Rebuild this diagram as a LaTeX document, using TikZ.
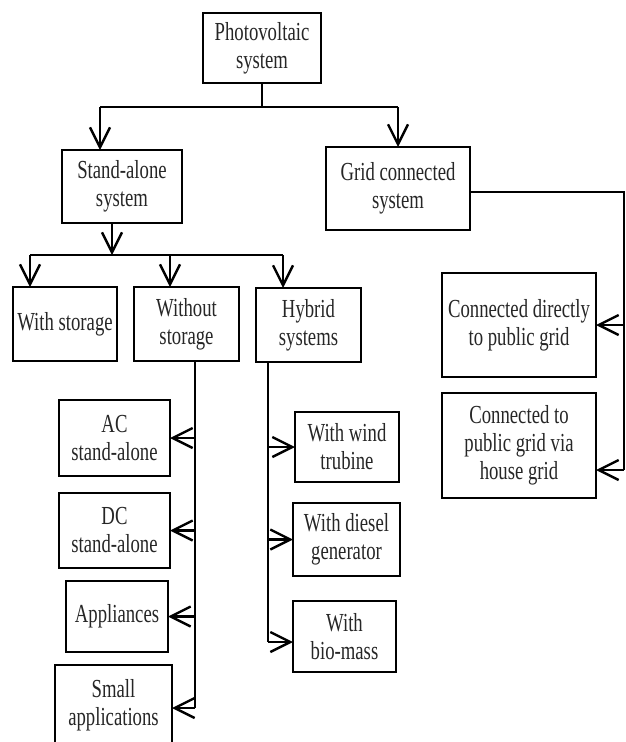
\documentclass[tikz,border=0pt]{standalone}
\usepackage{fontspec}
\setmainfont{Liberation Serif}[FakeStretch=0.72]
\usetikzlibrary{arrows.meta}
\begin{document}
\begin{tikzpicture}[x=1pt, y=-1pt, line join=miter,
        every node/.style={outer sep=0pt},
        box/.style={draw, line width=2.6pt, inner sep=0pt, align=center, text=black!85, font=\fontsize{26}{28}\selectfont},
        link/.style={line width=2.4pt},
        arr/.style={link, -{Straight Barb[length=20pt, width=20pt]}}]
        \useasboundingbox (0,0) rectangle (626,742);
        \node[box, minimum width=118pt, minimum height=70pt] (pv) at (262,48) {Photovoltaic\\system};
        \node[box, minimum width=120pt, minimum height=73pt] (sa) at (122,186.5) {Stand-alone\\system};
        \node[box, minimum width=144pt, minimum height=83pt] (gc) at (398,188.5) {Grid connected\\system};
        \node[box, minimum width=104pt, minimum height=74pt] (ws) at (65,324) {With storage};
        \node[box, minimum width=105pt, minimum height=74pt] (wo) at (186.5,324) {Without\\storage};
        \node[box, minimum width=105pt, minimum height=74pt] (hy) at (308.5,325) {Hybrid\\systems};
        \node[box, minimum width=154pt, minimum height=104pt] (cd) at (519,325) {Connected directly\\to public grid};
        \node[box, minimum width=154pt, minimum height=105pt] (ch) at (519,445.5) {Connected to\\public grid via\\house grid};
        \node[box, minimum width=111pt, minimum height=76pt] (ac) at (114.5,438) {AC\\stand-alone};
        \node[box, minimum width=111pt, minimum height=75pt] (dc) at (114.5,530.5) {DC\\stand-alone};
        \node[box, minimum width=102pt, minimum height=71pt] (ap) at (117,616.5) {Appliances};
        \node[box, minimum width=117pt, minimum height=80pt] (sm) at (113.5,705) {Small\\applications};
        \node[box, minimum width=104pt, minimum height=70pt] (wt) at (347,447) {With wind\\trubine};
        \node[box, minimum width=107pt, minimum height=73pt] (dg) at (346.5,539.5) {With diesel\\generator};
        \node[box, minimum width=103pt, minimum height=71pt] (bm) at (344.5,636.5) {With\\bio-mass};
        \coordinate (pvL) at (100,107);
        \coordinate (pvR) at (398,107);
        \coordinate (saBus) at (112,255);
        \coordinate (busL) at (30,255);
        \coordinate (busM) at (170,255);
        \coordinate (busR) at (283,255);
        \coordinate (woEnd) at (195,708);
        \coordinate (hyEnd) at (268,642);
        \coordinate (gcTop) at (624,192);
        \coordinate (gcEnd) at (624,470);
        \draw[link] (pv.south) -- (pv.south |- pvL);
        \draw[link] (pvL) -- (pvR);
        \draw[arr] (pvL) -- (pvL |- sa.north);
        \draw[arr] (pvR) -- (pvR |- gc.north);
        \draw[arr] (saBus |- sa.south) -- (saBus);
        \draw[link] (busL) -- (busR);
        \draw[arr] (busL) -- (busL |- ws.north);
        \draw[arr] (busM) -- (busM |- wo.north);
        \draw[arr] (busR) -- (busR |- hy.north);
        \draw[link] (woEnd |- wo.south) -- (woEnd);
        \draw[arr] (woEnd |- ac.east) -- (ac.east);
        \draw[arr] (woEnd |- dc.east) -- (dc.east);
        \draw[arr] (woEnd |- ap.east) -- (ap.east);
        \draw[arr] (woEnd) -- (woEnd -| sm.east);
        \draw[link] (hyEnd |- hy.south) -- (hyEnd);
        \draw[arr] (hyEnd |- wt.west) -- (wt.west);
        \draw[arr] (hyEnd |- dg.west) -- (dg.west);
        \draw[arr] (hyEnd) -- (hyEnd -| bm.west);
        \draw[link] (gcTop -| gc.east) -- (gcTop) -- (gcEnd);
        \draw[arr] (gcTop |- cd.east) -- (cd.east);
        \draw[arr] (gcEnd) -- (gcEnd -| ch.east);
\end{tikzpicture}
\end{document}
